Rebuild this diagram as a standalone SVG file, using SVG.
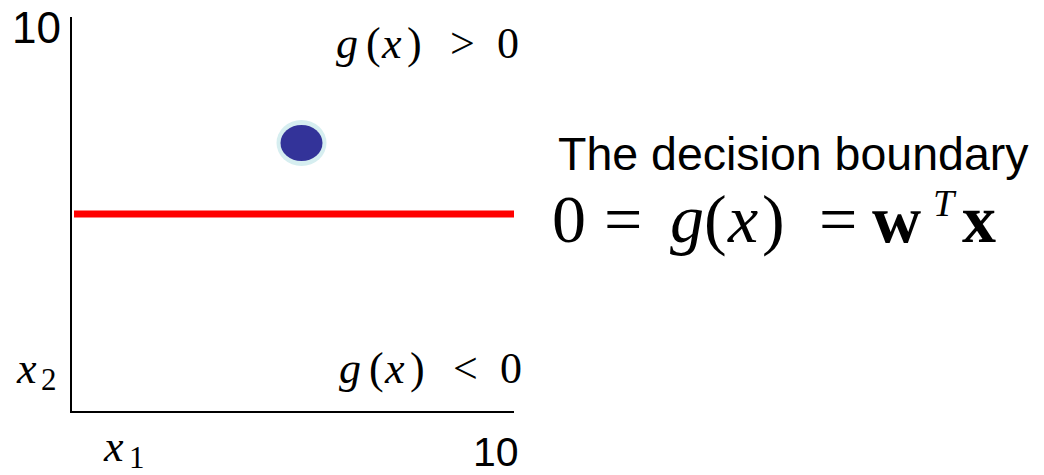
<svg xmlns="http://www.w3.org/2000/svg" width="1044" height="475" viewBox="0 0 1044 475">
<style>
.sans{font-family:"Liberation Sans",Arial,sans-serif;fill:#000}
.math{font-family:"Liberation Serif","Times New Roman",serif;fill:#000}
.it{font-style:italic}
.bf{font-weight:bold}
</style>
<rect width="1044" height="475" fill="#fff"/>
<g id="axes">
<line x1="71" y1="17" x2="71" y2="412" stroke="#000" stroke-width="2"/>
<line x1="70" y1="412" x2="514" y2="412" stroke="#000" stroke-width="2"/>
</g>
<g id="boundary">
<line x1="74" y1="214" x2="514" y2="214" stroke="#ff0000" stroke-width="7"/>
</g>
<g id="point">
<ellipse cx="301.5" cy="143" rx="25" ry="23" fill="#d6eef0"/>
<ellipse cx="301.5" cy="143" rx="21" ry="18" fill="#333399"/>
</g>
<g id="labels">
<text class="sans" x="12" y="43" font-size="44">10</text>
<text class="sans" x="473" y="466" font-size="41">10</text>
<text class="math" y="58" font-size="44"><tspan class="it" x="336">g</tspan><tspan x="366">(</tspan><tspan class="it" x="382">x</tspan><tspan x="407">)</tspan><tspan x="450">&gt;</tspan><tspan x="497">0</tspan></text>
<text class="math" y="383" font-size="44"><tspan class="it" x="339">g</tspan><tspan x="369">(</tspan><tspan class="it" x="385">x</tspan><tspan x="410">)</tspan><tspan x="453">&lt;</tspan><tspan x="500">0</tspan></text>
<text class="math" y="383" font-size="44"><tspan class="it" x="17">x</tspan><tspan font-size="31" x="41" dy="7">2</tspan></text>
<text class="math" y="461" font-size="44"><tspan class="it" x="104">x</tspan><tspan font-size="31" x="129" dy="7">1</tspan></text>
</g>
<g id="equation">
<text class="sans" x="558" y="170" font-size="46.5">The decision boundary</text>
<text class="math" y="242" font-size="68"><tspan x="552">0</tspan><tspan x="604">=</tspan><tspan class="it" x="670">g</tspan><tspan x="704">(</tspan><tspan class="it" x="728">x</tspan><tspan x="762">)</tspan><tspan x="819">=</tspan><tspan class="bf" x="872">w</tspan><tspan class="it" font-size="38" x="933" dy="-26">T</tspan><tspan class="bf" x="962" dy="26">x</tspan></text>
</g>
</svg>
